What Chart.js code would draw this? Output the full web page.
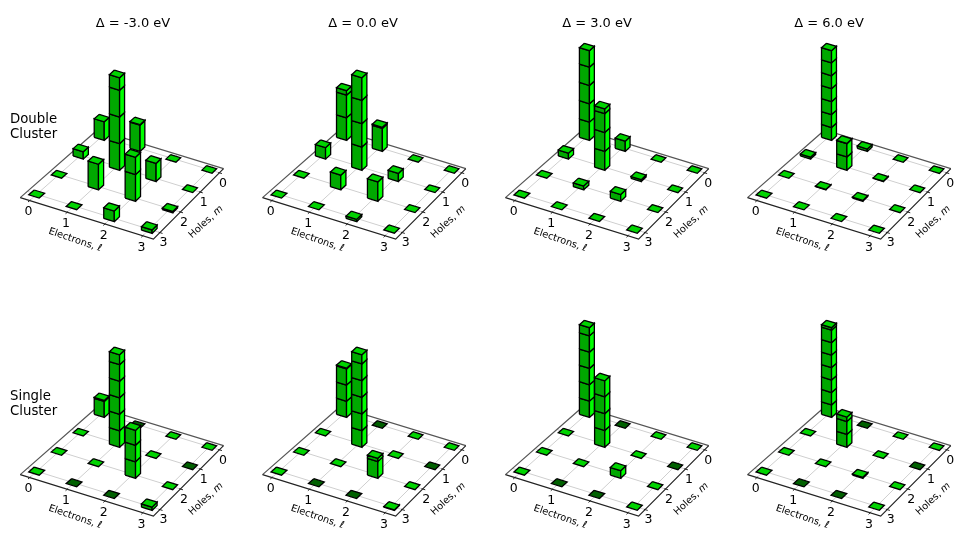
<!DOCTYPE html>
<html>
<head>
<meta charset="utf-8">
<style>
  html, body { margin: 0; padding: 0; background: #fff; }
  #fig { position: relative; width: 969px; height: 554px; overflow: hidden; }
  #fig div { position: absolute; width: 242px; height: 277px; }
</style>
<script src="https://cdn.jsdelivr.net/npm/chart.js@4"></script>
</head>
<body>
<div id="fig"></div>
<script>
// bar heights, one row per electron count l = 0..3, columns are holes m = 0..3
// a tiny negative value is a bar seen from below, so its cap is dark
var doubleMinus3 = [[0.72, 0.28, 0.01, 0.01], [1.02, 3.47, 0.96, 0.01], [0.01, 0.68, 1.65, 0.4], [0.01, 0.01, 0.05, 0.13]];
var doubleZero = [[2.2, 0.5, 0.01, 0.01], [1.05, 3.97, 0.63, 0.01], [0.01, 0.35, 0.83, 0.1], [0.01, 0.01, 0.01, 0.01]];
var doublePlus3 = [[4.9, 0.32, 0.01, 0.01], [0.55, 3.25, 0.2, 0.01], [0.01, 0.1, 0.36, 0.01], [0.01, 0.01, 0.01, 0.01]];
var doublePlus6 = [[6.94, 0.15, 0.01, 0.01], [0.18, 2.02, 0.03, 0.01], [0.01, 0.03, 0.07, 0.01], [0.01, 0.01, 0.01, 0.01]];
var singleMinus3 = [[1.06, 0.01, 0.01, 0.01], [-0.01, 5.6, 0.01, -0.01], [0.01, 0.01, 2.9, -0.01], [0.01, -0.01, 0.01, 0.2]];
var singleZero = [[3.05, 0.01, 0.01, 0.01], [-0.01, 5.55, 0.01, -0.01], [0.01, 0.01, 1.2, -0.01], [0.01, -0.01, 0.01, 0.03]];
var singlePlus3 = [[5.5, 0.01, 0.01, 0.01], [-0.01, 3.95, 0.01, -0.01], [0.01, 0.01, 0.45, -0.01], [0.01, -0.01, 0.01, 0.01]];
var singlePlus6 = [[7.2, 0.01, 0.01, 0.01], [-0.01, 2.35, 0.01, -0.01], [0.01, 0.01, 0.08, -0.01], [0.01, -0.01, 0.01, 0.01]];

var electronTicks = ['0', '1', '2', '3'];
var holeTicks = ['0', '1', '2', '3'];
var panelTitles = ['Δ = -3.0 eV', 'Δ = 0.0 eV', 'Δ = 3.0 eV', 'Δ = 6.0 eV'];
var rowLabels = [['Double', 'Cluster'], ['Single', 'Cluster']];
var panels = [doubleMinus3, doubleZero, doublePlus3, doublePlus6, singleMinus3, singleZero, singlePlus3, singlePlus6];

var panelLeft = [0, 242, 485, 727];
var panelNudge = [0, 0.3, 0.2, 0.3];
var titleCentre = [133, 121, 112, 102];
var panelW = 242, panelH = 277;

// floor cell centres of (l,m) = (0,0), (3,0), (3,3), (0,3) in panel pixels
var floorCorners = [[101.7, 136.7], [209.3, 169.7], [149.3, 229.3], [36.7, 194.3]];
var lMin = -0.25, lMax = 3.28, mMin = -0.22, mMax = 3.31;
var halfL = 0.14, halfM = 0.12;
var zSpan = 92.5;

var faceLeft = '#00a800', faceRight = '#00ff00', faceTop = '#00d400', faceUnder = '#006000';
var edgeWidth = 1.3;

// projective map of the unit square on the floor
function floorMap() {
	var p = floorCorners;
	var dx1 = p[1][0] - p[2][0], dx2 = p[3][0] - p[2][0], sx = p[0][0] - p[1][0] + p[2][0] - p[3][0];
	var dy1 = p[1][1] - p[2][1], dy2 = p[3][1] - p[2][1], sy = p[0][1] - p[1][1] + p[2][1] - p[3][1];
	var det = dx1 * dy2 - dx2 * dy1;
	var g = (sx * dy2 - dx2 * sy) / det;
	var h = (dx1 * sy - sx * dy1) / det;
	return function (l, m) {
		var u = l / 3, v = m / 3;
		var w = g * u + h * v + 1;
		return {
			x: ((p[1][0] - p[0][0] + g * p[1][0]) * u + (p[3][0] - p[0][0] + h * p[3][0]) * v + p[0][0]) / w,
			y: ((p[1][1] - p[0][1] + g * p[1][1]) * u + (p[3][1] - p[0][1] + h * p[3][1]) * v + p[0][1]) / w
		};
	};
}
var floor = floorMap();

function lineSet(points, colour, width) {
	return {
		data: points, showLine: true, fill: false, borderColor: colour, borderWidth: width,
		pointRadius: 0, tension: 0, borderCapStyle: 'butt'
	};
}

function faceSet(points, colour) {
	return {
		data: points.concat([points[0]]), showLine: true, fill: 'shape', backgroundColor: colour,
		borderColor: '#000', borderWidth: edgeWidth, pointRadius: 0, tension: 0, borderJoinStyle: 'miter'
	};
}

function raised(l, m, z, unit, shift) {
	var p = floor(l, m);
	return { x: p.x + shift, y: p.y - z * unit };
}

function floorSets(shift) {
	var sets = [];
	var i;
	for (i = 0; i < 4; i++) {
		sets.push(lineSet([raised(i, mMin, 0, 0, shift), raised(i, mMax, 0, 0, shift)], '#cfcfcf', 1));
		sets.push(lineSet([raised(lMin, i, 0, 0, shift), raised(lMax, i, 0, 0, shift)], '#cfcfcf', 1));
	}
	sets.push(lineSet([raised(lMin, mMax, 0, 0, shift), raised(lMin, mMin, 0, 0, shift), raised(lMax, mMin, 0, 0, shift)], '#555', 1.2));
	sets.push(lineSet([raised(lMin, mMax, 0, 0, shift), raised(lMax, mMax, 0, 0, shift), raised(lMax, mMin, 0, 0, shift)], '#222', 1.2));
	for (i = 0; i < 4; i++) {
		sets.push(lineSet([raised(i, mMax - 0.03, 0, 0, shift), raised(i, mMax + 0.07, 0, 0, shift)], '#222', 1));
		sets.push(lineSet([raised(lMax - 0.03, i, 0, 0, shift), raised(lMax + 0.07, i, 0, 0, shift)], '#222', 1));
	}
	return sets;
}

function barSets(l, m, value, unit, shift) {
	var sets = [];
	var h = Math.abs(value);
	var x0 = l - halfL, x1 = l + halfL, y0 = m - halfM, y1 = m + halfM;
	var z = 0;
	while (z < h) {
		var top = Math.min(z + 1, h);
		if (h > 0.02) {
			sets.push(faceSet([raised(x0, y1, z, unit, shift), raised(x1, y1, z, unit, shift), raised(x1, y1, top, unit, shift), raised(x0, y1, top, unit, shift)], faceLeft));
			sets.push(faceSet([raised(x1, y1, z, unit, shift), raised(x1, y0, z, unit, shift), raised(x1, y0, top, unit, shift), raised(x1, y1, top, unit, shift)], faceRight));
		}
		z = top;
	}
	sets.push(faceSet([raised(x0, y0, h, unit, shift), raised(x1, y0, h, unit, shift), raised(x1, y1, h, unit, shift), raised(x0, y1, h, unit, shift)], value < 0 ? faceUnder : faceTop));
	return sets;
}

function panelSets(heights, shift) {
	var biggest = 0;
	var cells = [];
	heights.forEach(function (row, l) {
		row.forEach(function (value, m) {
			biggest = Math.max(biggest, value);
			cells.push({ l: l, m: m, value: value });
		});
	});
	// far corner first
	cells.sort(function (a, b) {
		return (a.l + a.m) - (b.l + b.m) || a.l - b.l;
	});
	var sets = floorSets(shift);
	cells.forEach(function (cell) {
		// the far corner sits a little further from the camera
		var depth = Math.min(1, 1 + 0.015 * (cell.l + cell.m - 2));
		sets = sets.concat(barSets(cell.l, cell.m, cell.value, depth * zSpan / biggest, shift));
	});
	// chart.js paints the first dataset last
	return sets.reverse();
}

function drawText(ctx, chart, text, x, y, font, angle) {
	var px = chart.scales.x.getPixelForValue(x);
	var py = chart.scales.y.getPixelForValue(y);
	ctx.save();
	ctx.translate(px, py);
	ctx.rotate(angle || 0);
	ctx.font = font;
	ctx.fillStyle = '#000';
	ctx.textAlign = 'center';
	ctx.textBaseline = 'middle';
	ctx.fillText(text, 0, 0);
	ctx.restore();
}

// axis caption whose last letter is italic
function drawCaption(ctx, chart, plain, slanted, x, y, angle) {
	var px = chart.scales.x.getPixelForValue(x);
	var py = chart.scales.y.getPixelForValue(y);
	ctx.save();
	ctx.translate(px, py);
	ctx.rotate(angle);
	ctx.fillStyle = '#000';
	ctx.textBaseline = 'middle';
	ctx.font = '9.8px "DejaVu Sans"';
	var w1 = ctx.measureText(plain).width;
	ctx.font = 'italic 9.8px "DejaVu Sans"';
	var w2 = ctx.measureText(slanted).width;
	ctx.textAlign = 'left';
	ctx.fillText(slanted, (w1 - w2) / 2, 0);
	ctx.font = '9.8px "DejaVu Sans"';
	ctx.fillText(plain, -(w1 + w2) / 2, 0);
	ctx.restore();
}

function drawLeft(ctx, chart, text, x, y) {
	ctx.save();
	ctx.font = '13.3px "DejaVu Sans"';
	ctx.fillStyle = '#000';
	ctx.textAlign = 'left';
	ctx.textBaseline = 'middle';
	ctx.fillText(text, chart.scales.x.getPixelForValue(x), chart.scales.y.getPixelForValue(y));
	ctx.restore();
}

var panelText = {
	id: 'panelText',
	afterDraw: function (chart) {
		var o = chart.options.plugins.panelText;
		var ctx = chart.ctx;
		var tickFont = '12.5px "DejaVu Sans"';
		electronTicks.forEach(function (label, i) {
			var p = raised(i, mMax, 0, 0, o.shift);
			drawText(ctx, chart, label, p.x - 1.2, p.y + 11.5, tickFont);
		});
		holeTicks.forEach(function (label, i) {
			var p = raised(lMax, i, 0, 0, o.shift);
			drawText(ctx, chart, label, p.x + 3.5, p.y + 10.5, tickFont);
		});
		drawCaption(ctx, chart, 'Electrons, ', 'ℓ', 75 + o.shift, 240, 0.33);
		drawCaption(ctx, chart, 'Holes, ', 'm', 206 + o.shift, 222, -0.75);
		if (o.title) {
			drawText(ctx, chart, o.title, o.titleX, 23.3, '13px "DejaVu Sans"');
		}
		if (o.rowLabel) {
			drawLeft(ctx, chart, o.rowLabel[0], 10, 120);
			drawLeft(ctx, chart, o.rowLabel[1], 10, 135);
		}
	}
};

function addPanel(index) {
	var col = index % 4, row = Math.floor(index / 4);
	var box = document.createElement('div');
	box.style.left = panelLeft[col] + 'px';
	box.style.top = (row * panelH) + 'px';
	var canvas = document.createElement('canvas');
	box.appendChild(canvas);
	document.getElementById('fig').appendChild(box);

	new Chart(canvas.getContext('2d'), {
		type: 'scatter',
		data: { datasets: panelSets(panels[index], panelNudge[col]) },
		options: {
			responsive: true,
			maintainAspectRatio: false,
			animation: false,
			events: [],
			layout: { padding: 0 },
			scales: {
				x: { type: 'linear', display: false, min: 0, max: panelW },
				y: { type: 'linear', display: false, min: 0, max: panelH, reverse: true }
			},
			plugins: {
				legend: { display: false },
				tooltip: { enabled: false },
				panelText: {
					shift: panelNudge[col],
					title: row == 0 ? panelTitles[col] : null,
					titleX: titleCentre[col],
					rowLabel: col == 0 ? rowLabels[row] : null
				}
			}
		},
		plugins: [panelText]
	});
}

for (var i = 0; i < panels.length; i++) {
	addPanel(i);
}
</script>
</body>
</html>
